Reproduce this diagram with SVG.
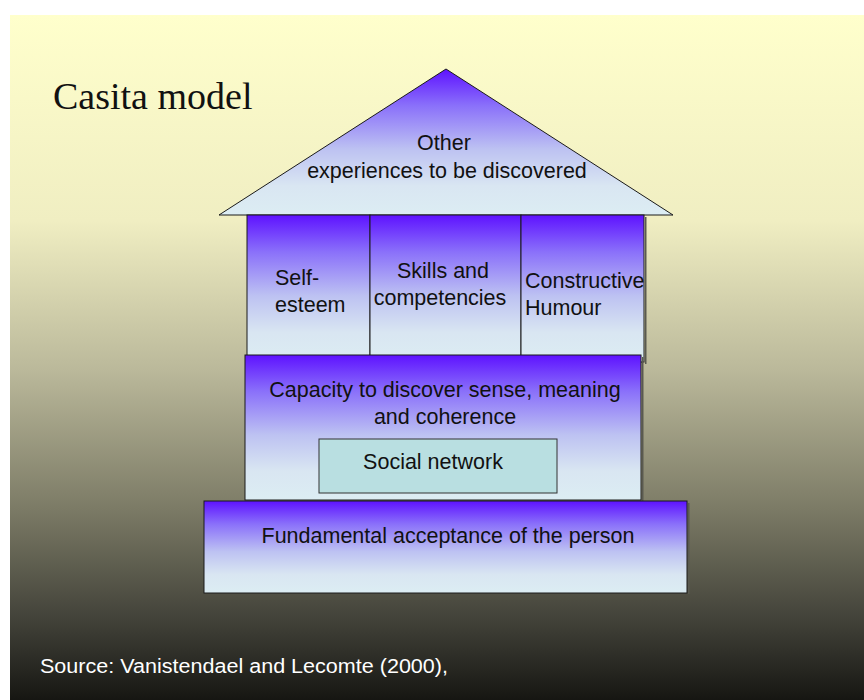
<svg xmlns="http://www.w3.org/2000/svg" width="864" height="700" viewBox="0 0 864 700">
<defs>
<linearGradient id="bg" x1="0" y1="0" x2="0" y2="1">
<stop offset="0" stop-color="#FFFFCC"/>
<stop offset="0.3" stop-color="#F0EEC2"/>
<stop offset="0.52" stop-color="#BAB89A"/>
<stop offset="0.72" stop-color="#7C7B66"/>
<stop offset="0.88" stop-color="#43433A"/>
<stop offset="1" stop-color="#161612"/>
</linearGradient>
<linearGradient id="fill" x1="0" y1="0" x2="0" y2="1">
<stop offset="0" stop-color="#5E12FF"/>
<stop offset="0.25" stop-color="#8A70FA"/>
<stop offset="0.55" stop-color="#BDC2F2"/>
<stop offset="0.8" stop-color="#D9E6F2"/>
<stop offset="1" stop-color="#DCEDF3"/>
</linearGradient>
<style>
.box{fill:url(#fill);stroke:#1a1a1a;stroke-width:1}
.sh{fill:#5a5a50}
.t{font-family:"Liberation Sans",Arial,sans-serif;font-size:21.5px;fill:#111}
.c{text-anchor:middle}
</style>
</defs>
<rect x="0" y="0" width="864" height="700" fill="#ffffff"/>
<rect x="10" y="15" width="854" height="685" fill="url(#bg)"/>
<text x="53" y="109" font-family="'Liberation Serif','Times New Roman',serif" font-size="38" fill="#111">Casita model</text>
<g id="roof">
<polygon points="446,69 219,215 673,215" class="box"/>
<text class="t c" x="444" y="150">Other</text>
<text class="t c" x="447" y="178">experiences to be discovered</text>
</g>
<g id="self-esteem">
<rect x="247" y="215" width="123" height="147" class="box"/>
<text class="t" x="275" y="285">Self-</text>
<text class="t" x="275" y="312">esteem</text>
</g>
<g id="skills">
<rect x="370" y="215" width="151" height="147" class="box"/>
<text class="t c" x="443" y="278">Skills and</text>
<text class="t c" x="440" y="305">competencies</text>
</g>
<g id="humour">
<rect x="645" y="217" width="1.5" height="147" class="sh"/>
<rect x="521" y="215" width="123" height="147" class="box"/>
<text class="t" x="525" y="288">Constructive</text>
<text class="t" x="525" y="315">Humour</text>
</g>
<g id="capacity">
<rect x="642" y="357" width="1.5" height="144" class="sh"/>
<rect x="245" y="355" width="396" height="145" class="box"/>
<text class="t c" x="445" y="397">Capacity to discover sense, meaning</text>
<text class="t c" x="445" y="424">and coherence</text>
</g>
<g id="social-network">
<rect x="319" y="439" width="238" height="54" fill="#B9DFE1" stroke="#333" stroke-width="1"/>
<text class="t c" x="433" y="469">Social network</text>
</g>
<g id="fundamental">
<rect x="688" y="503" width="1.5" height="91" class="sh"/>
<rect x="204" y="501" width="483" height="92" class="box"/>
<text class="t c" x="448" y="543">Fundamental acceptance of the person</text>
</g>
<g id="connectors"></g>
<text x="40" y="673" font-family="'Liberation Sans',Arial,sans-serif" font-size="20" fill="#ffffff" textLength="408" lengthAdjust="spacingAndGlyphs">Source: Vanistendael and Lecomte (2000),</text>
</svg>
